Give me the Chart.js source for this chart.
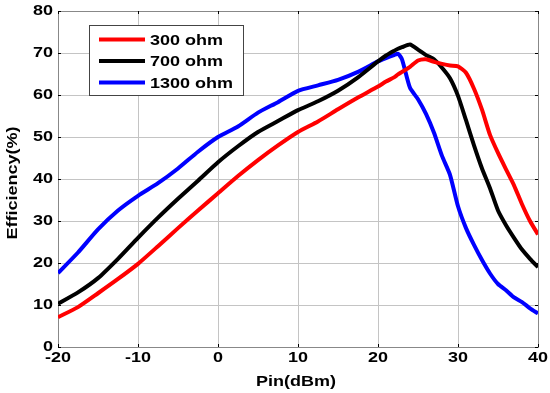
<!DOCTYPE html>
<html>
<head>
<meta charset="utf-8">
<script src="https://cdn.jsdelivr.net/npm/chart.js@4/dist/chart.umd.min.js"></script>
<style>
  html, body { margin: 0; padding: 0; background: #fff; }
  #wrap { width: 550px; height: 393px; position: relative; }
</style>
</head>
<body>
<div id="wrap"><canvas id="eff-chart"></canvas></div>
<script>
// Efficiency vs input power for three load resistances

const pinDbm = [-20, -17.5, -15, -12.5, -10, -7.5, -5, -2.5, 0, 2.5, 5, 7.5, 10, 12.5, 15, 17.5,
                20, 21, 22, 22.5, 23, 24, 25, 26, 27, 28, 29, 30, 31, 32, 33, 34, 35, 36, 37, 38, 39, 40];

const eff300 = [7.1, 9.5, 12.8, 16.2, 19.8, 24.0, 28.3, 32.5, 36.6, 40.7, 44.5, 48.0, 51.2, 53.7, 56.6, 59.4,
                62.0, 63.2, 64.2, 64.9, 65.5, 66.7, 68.2, 68.5, 67.9, 67.4, 67.0, 66.8, 65.3, 61.5, 56.5, 50.5, 46.2, 42.3, 38.5, 34.0, 30.0, 26.8];

const eff700 = [10.3, 13.0, 16.4, 21.0, 26.0, 30.8, 35.3, 39.6, 44.0, 47.8, 51.2, 53.8, 56.4, 58.5, 61.0, 64.2,
                68.0, 69.4, 70.5, 71.0, 71.4, 72.0, 70.8, 69.5, 68.5, 66.5, 64.0, 59.8, 54.0, 48.0, 42.5, 37.8, 32.5, 29.0, 26.0, 23.2, 21.0, 19.0];

const eff1300 = [17.6, 22.5, 28.0, 32.5, 36.0, 39.0, 42.5, 46.5, 50.0, 52.5, 55.8, 58.3, 61.0, 62.3, 63.6, 65.5,
                 68.0, 68.8, 69.5, 69.8, 68.5, 61.7, 59.0, 55.5, 51.0, 45.5, 41.0, 33.5, 28.3, 24.3, 20.7, 17.5, 15.0, 13.5, 11.8, 10.7, 9.2, 8.0];

const seriesLabels = ["300 ohm", "700 ohm", "1300 ohm"];
const seriesColors = ["#ff0000", "#000000", "#0000ff"];

const xTicks = [-20, -10, 0, 10, 20, 30, 40];
const yTicks = [0, 10, 20, 30, 40, 50, 60, 70, 80];
const xTitle = "Pin(dBm)";
const yTitle = "Efficiency(%)";

const FONT = "Liberation Sans, Arial, sans-serif";
const STRETCH = 1.2; // the original text is drawn a bit wide

function toPoints(ys) {
  return pinDbm.map((x, i) => ({ x: x, y: ys[i] }));
}

function wideText(ctx, text, x, y, align, size, rot) {
  ctx.save();
  ctx.translate(x, y);
  if (rot) ctx.rotate(rot);
  ctx.scale(STRETCH, 1);
  ctx.font = "bold " + size + "px " + FONT;
  ctx.textAlign = align;
  ctx.textBaseline = "middle";
  ctx.fillStyle = "#000";
  ctx.fillText(text, 0, 0);
  ctx.restore();
}

// matlab-style inner tick marks + tick labels + axis titles
const axisDecor = {
  id: "axisDecor",
  afterDatasetsDraw(chart) {
    const { ctx, chartArea: a, scales: { x, y } } = chart;
    ctx.save();
    ctx.strokeStyle = "#000";
    ctx.lineWidth = 1;
    ctx.beginPath();
    xTicks.forEach(v => {
      const px = Math.round(x.getPixelForValue(v)) + 0.5;
      ctx.moveTo(px, a.bottom); ctx.lineTo(px, a.bottom - 3);
      ctx.moveTo(px, a.top); ctx.lineTo(px, a.top + 3);
    });
    yTicks.forEach(v => {
      const py = Math.round(y.getPixelForValue(v)) + 0.5;
      ctx.moveTo(a.left, py); ctx.lineTo(a.left + 3, py);
      ctx.moveTo(a.right, py); ctx.lineTo(a.right - 3, py);
    });
    ctx.stroke();
    ctx.restore();

    xTicks.forEach(v => {
      wideText(ctx, String(v), x.getPixelForValue(v), a.bottom + 11, "center", 15);
    });
    yTicks.forEach(v => {
      wideText(ctx, String(v), a.left - 5, y.getPixelForValue(v), "right", 15);
    });
    wideText(ctx, xTitle, (a.left + a.right) / 2 - 2, a.bottom + 35, "center", 15);
    wideText(ctx, yTitle, 13, (a.top + a.bottom) / 2 + 4, "center", 15, -Math.PI / 2);
  }
};

// legend box inside the plot, upper left
const boxLegend = {
  id: "boxLegend",
  afterDraw(chart) {
    const ctx = chart.ctx;
    const x0 = 89, y0 = 25, w = 154, h = 70;
    ctx.save();
    ctx.fillStyle = "#fff";
    ctx.fillRect(x0, y0, w, h);
    ctx.strokeStyle = "#444";
    ctx.lineWidth = 1;
    ctx.strokeRect(x0 + 0.5, y0 + 0.5, w, h);
    chart.data.datasets.forEach((ds, i) => {
      const ly = y0 + 14.5 + i * 21.5;
      ctx.strokeStyle = ds.borderColor;
      ctx.lineWidth = 4;
      ctx.beginPath();
      ctx.moveTo(x0 + 10, ly);
      ctx.lineTo(x0 + 56, ly);
      ctx.stroke();
      wideText(ctx, ds.label, x0 + 61, ly + 1, "left", 15);
    });
    ctx.restore();
  }
};

const ctx = document.getElementById("eff-chart").getContext("2d");
new Chart(ctx, {
  type: "line",
  data: {
    datasets: [eff300, eff700, eff1300].map((ys, i) => ({
      label: seriesLabels[i],
      data: toPoints(ys),
      borderColor: seriesColors[i],
      backgroundColor: seriesColors[i],
      borderWidth: 4,
      pointRadius: 0,
      tension: 0.2
    }))
  },
  plugins: [axisDecor, boxLegend],
  options: {
    responsive: true,
    maintainAspectRatio: false,
    animation: false,
    layout: { padding: { left: 58, right: 12, top: 11, bottom: 46 } },
    plugins: { legend: { display: false }, tooltip: { enabled: false } },
    scales: {
      x: {
        type: "linear",
        min: -20, max: 40,
        afterBuildTicks: s => { s.ticks = xTicks.map(v => ({ value: v })); },
        afterFit: s => { s.height = 0; },
        grid: { color: "#c4c4c4", lineWidth: 1, drawTicks: false },
        border: { color: "#888", width: 1 },
        ticks: { display: false }
      },
      y: {
        type: "linear",
        min: 0, max: 80,
        afterBuildTicks: s => { s.ticks = yTicks.map(v => ({ value: v })); },
        afterFit: s => { s.width = 0; },
        grid: { color: "#c4c4c4", lineWidth: 1, drawTicks: false },
        border: { color: "#888", width: 1 },
        ticks: { display: false }
      },
      x2: {
        type: "linear", position: "top", min: -20, max: 40,
        afterFit: s => { s.height = 0; },
        grid: { display: false, drawTicks: false },
        border: { color: "#888", width: 1 },
        ticks: { display: false }
      },
      y2: {
        type: "linear", position: "right", min: 0, max: 80,
        afterFit: s => { s.width = 0; },
        grid: { display: false, drawTicks: false },
        border: { color: "#888", width: 1 },
        ticks: { display: false }
      }
    }
  }
});
</script>
</body>
</html>
